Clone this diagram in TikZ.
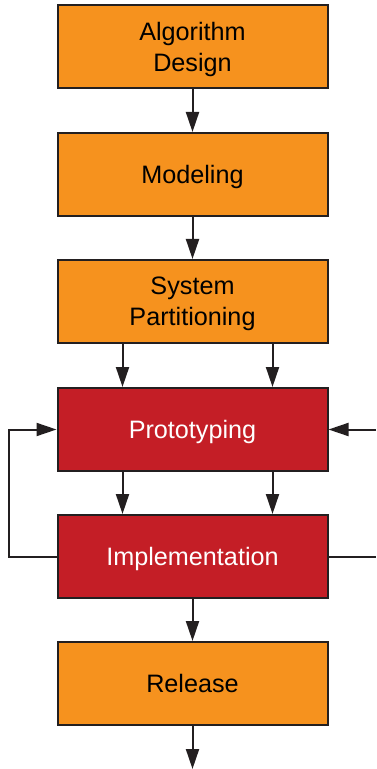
\documentclass[tikz,border=0pt]{standalone}
\usepackage{fontspec}
\setmainfont{Liberation Sans}
\usetikzlibrary{arrows.meta}
\definecolor{stageorange}{RGB}{246,146,30}
\definecolor{stagered}{RGB}{196,30,38}
\definecolor{edgegray}{RGB}{35,31,32}
\begin{document}
\begin{tikzpicture}[x=0.5pt, y=-0.5pt, font=\fontsize{12.6}{15.5}\selectfont,
  box/.style={rectangle, draw=edgegray, line width=1pt, inner sep=0pt, text depth=0pt, minimum width=135pt, minimum height=41.5pt, align=center, fill=#1},
  flow/.style={line width=1pt, draw=edgegray, ->, >={Triangle[length=10pt,width=6.5pt]}}]
  \useasboundingbox (0,0) rectangle (376,769);
  \node[box=stageorange] (algo) at (192.5,47) {Algorithm\\Design};
  \node[box=stageorange] (model) at (192.5,174.5) {Modeling};
  \node[box=stageorange] (part) at (192.5,301.5) {System\\Partitioning};
  \node[box=stagered, text=white] (proto) at (192.5,429.5) {Prototyping};
  \node[box=stagered, text=white] (impl) at (192.5,556.5) {Implementation};
  \node[box=stageorange] (rel) at (192.5,683.5) {Release};
  \coordinate (rin) at (376,429.5);
  \coordinate (rout) at (376,556.5);
  \coordinate (out) at (192.5,769);
  \draw[flow] (algo) -- (model);
  \draw[flow] (model) -- (part);
  \draw[flow] ([xshift=-35pt]part.south) -- ([xshift=-35pt]proto.north);
  \draw[flow] ([xshift=40pt]part.south) -- ([xshift=40pt]proto.north);
  \draw[flow] ([xshift=-35pt]proto.south) -- ([xshift=-35pt]impl.north);
  \draw[flow] ([xshift=40pt]proto.south) -- ([xshift=40pt]impl.north);
  \draw[flow] (impl) -- (rel);
  \draw[flow] (rel) -- (out);
  % feedback from implementation back to prototyping
  \draw[flow] (impl.west) -- ++(-23.75pt,0) |- (proto.west);
  \draw[flow] (rin) -- (proto.east);
  \draw[line width=1pt, draw=edgegray] (impl.east) -- (rout);
\end{tikzpicture}
\end{document}
